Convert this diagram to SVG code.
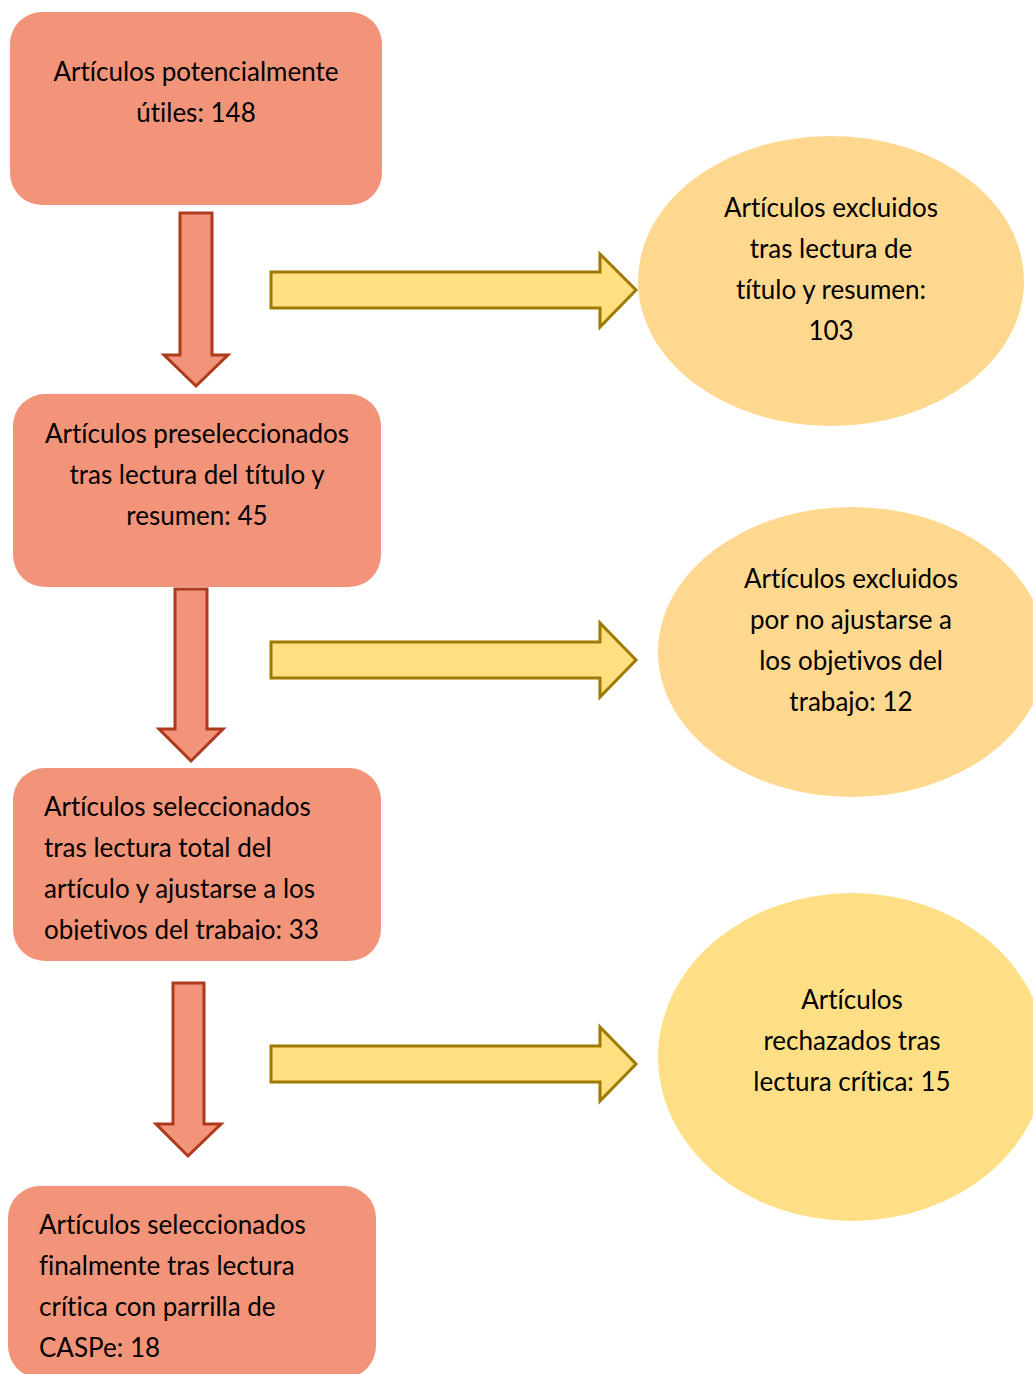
<svg xmlns="http://www.w3.org/2000/svg" width="1033" height="1374" viewBox="0 0 1033 1374">
<style>
.box{fill:#F29479;}
.ell1{fill:#FED88F;}
.ell3{fill:#FFDF86;}
.down{fill:#F29479;stroke:#AE3A1C;stroke-width:3;stroke-linejoin:miter;}
.right{fill:#FFDF80;stroke:#9E7B00;stroke-width:3;stroke-linejoin:miter;}
text{font-family:Lato,"Open Sans","Liberation Sans",sans-serif;font-size:26px;fill:#000;font-variant-ligatures:none;}
.c{text-anchor:middle;}
</style>
<defs>
<clipPath id="clip3"><rect x="13" y="768" width="368" height="172"/></clipPath>
</defs>
<rect width="1033" height="1374" fill="#FFFFFF"/>

<g id="connectors">
<polygon class="down" points="180,213 212,213 212,355 228,355 196,386 164,355 180,355"/>
<polygon class="down" points="175,589 207,589 207,729 223,729 191,761 159,729 175,729"/>
<polygon class="down" points="173,983 204,983 204,1124 221,1124 188,1156 156,1124 173,1124"/>
<polygon class="right" points="271,272 600,272 600,254 636,290 600,327 600,308 271,308"/>
<polygon class="right" points="271,642 600,642 600,623 636,660 600,697 600,678 271,678"/>
<polygon class="right" points="271,1046 600,1046 600,1027 636,1064 600,1101 600,1082 271,1082"/>
</g>

<g id="node1">
<rect class="box" x="10" y="12" width="372" height="193" rx="32"/>
<text class="c" x="196" y="81">Artículos potencialmente</text>
<text class="c" x="196" y="122">útiles: 148</text>
</g>

<g id="node2">
<ellipse class="ell1" cx="831" cy="281" rx="193" ry="145"/>
<text class="c" x="831" y="217">Artículos excluidos</text>
<text class="c" x="831" y="258">tras lectura de</text>
<text class="c" x="831" y="299">título y resumen:</text>
<text class="c" x="831" y="340">103</text>
</g>

<g id="node3">
<rect class="box" x="13" y="394" width="368" height="193" rx="32"/>
<text class="c" x="197" y="443">Artículos preseleccionados</text>
<text class="c" x="197" y="484">tras lectura del título y</text>
<text class="c" x="197" y="525">resumen: 45</text>
</g>

<g id="node4">
<ellipse class="ell1" cx="852" cy="652" rx="194" ry="145"/>
<text class="c" x="851" y="588">Artículos excluidos</text>
<text class="c" x="851" y="629">por no ajustarse a</text>
<text class="c" x="851" y="670">los objetivos del</text>
<text class="c" x="851" y="711">trabajo: 12</text>
</g>

<g id="node5">
<rect class="box" x="13" y="768" width="368" height="193" rx="32"/>
<g clip-path="url(#clip3)">
<text x="44" y="816">Artículos seleccionados</text>
<text x="44" y="857">tras lectura total del</text>
<text x="44" y="898">artículo y ajustarse a los</text>
<text x="44" y="939">objetivos del trabajo: 33</text>
</g>
</g>

<g id="node6">
<ellipse class="ell3" cx="852" cy="1057" rx="194" ry="164"/>
<text class="c" x="852" y="1009">Artículos</text>
<text class="c" x="852" y="1050">rechazados tras</text>
<text class="c" x="852" y="1091">lectura crítica: 15</text>
</g>

<g id="node7">
<rect class="box" x="8" y="1186" width="368" height="192" rx="32"/>
<text x="39" y="1234">Artículos seleccionados</text>
<text x="39" y="1275">finalmente tras lectura</text>
<text x="39" y="1316">crítica con parrilla de</text>
<text x="39" y="1357">CASPe: 18</text>
</g>
</svg>
